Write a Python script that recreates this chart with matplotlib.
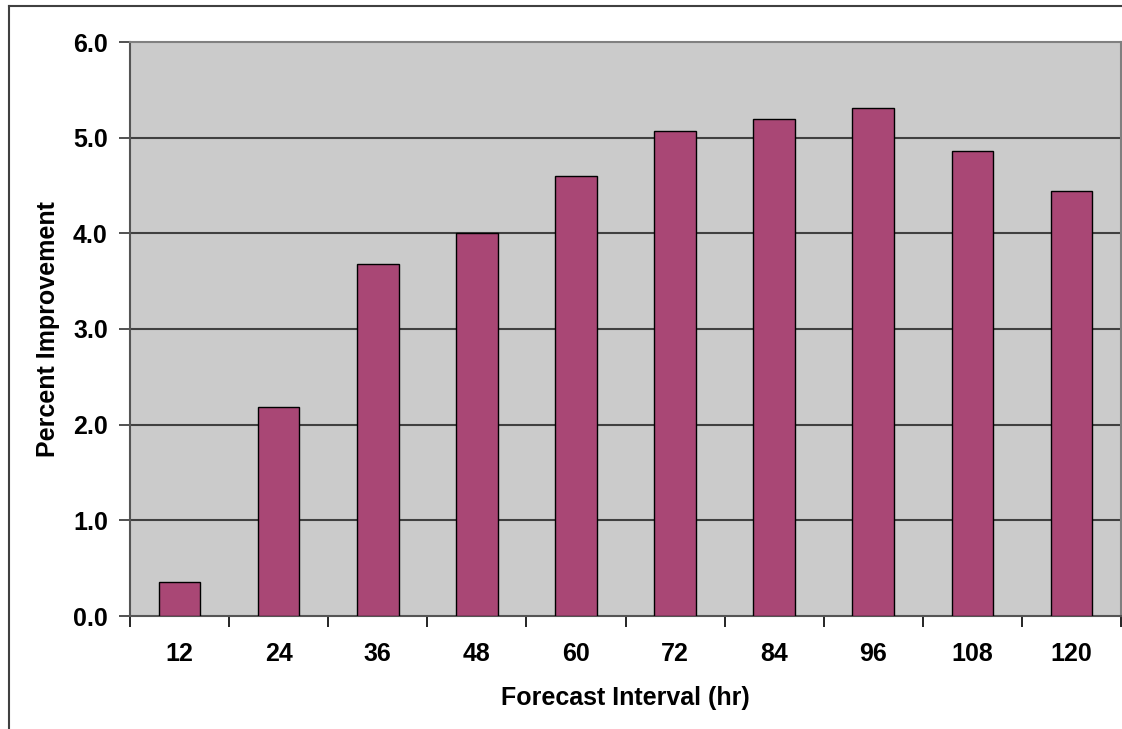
import matplotlib
matplotlib.use("Agg")
import matplotlib.pyplot as plt
from matplotlib.lines import Line2D

categories = ["12", "24", "36", "48", "60", "72", "84", "96", "108", "120"]
values = [0.36, 2.18, 3.68, 4.00, 4.60, 5.07, 5.19, 5.31, 4.86, 4.44]
yticks = [0.0, 1.0, 2.0, 3.0, 4.0, 5.0, 6.0]

plt.rcParams['font.family'] = ['Liberation Sans', 'DejaVu Sans']
plt.rcParams['font.weight'] = 'bold'

fig = plt.figure(figsize=(11.22, 7.29), dpi=100)
W, H = 1122, 729
ax = fig.add_axes([130 / W, 1 - 616 / H, (1121 - 130) / W, (616 - 42) / H])
ax.set_facecolor('#CBCBCB')

x = list(range(len(categories)))
ax.bar(x, values, width=0.42, color='#A94775', edgecolor='black', linewidth=1.0, zorder=3)

ax.set_xlim(-0.5, len(categories) - 0.5)
ax.set_ylim(0, 6.0)
ax.set_yticks(yticks)
ax.set_yticklabels([f"{v:.1f}" for v in yticks], fontsize=18, fontweight='bold')
ax.set_xticks([i + 0.5 for i in range(-1, len(categories))])
ax.set_xticklabels([])
ax.set_xticks(x, minor=True)
ax.set_xticklabels(categories, minor=True, fontsize=18, fontweight='bold')
ax.tick_params(axis='x', which='minor', length=0, pad=19)
ax.tick_params(axis='x', which='major', length=8, width=1.2, color='black', direction='out')
ax.tick_params(axis='y', length=8, width=1.2, color='#333333', direction='out', pad=8)

for v in yticks[1:-1]:
    ax.axhline(v, color='#404040', linewidth=1.5, zorder=1)

ax.spines['left'].set_color('#555555')
ax.spines['left'].set_linewidth(1.5)
ax.spines['bottom'].set_color('#555555')
ax.spines['bottom'].set_linewidth(1.5)
for s in ['top', 'right']:
    ax.spines[s].set_color('#808080')
    ax.spines[s].set_linewidth(1.5)

ax.set_xlabel("Forecast Interval (hr)", fontsize=18, fontweight='bold', labelpad=14)
ax.set_ylabel("Percent Improvement", fontsize=18, fontweight='bold', labelpad=9)

# outer chart border (left and top)
fig.add_artist(Line2D([9 / W, 9 / W], [0, 1 - 6 / H], color='#404040', linewidth=1.5, transform=fig.transFigure))
fig.add_artist(Line2D([9 / W, 1], [1 - 6 / H, 1 - 6 / H], color='#404040', linewidth=1.5, transform=fig.transFigure))

fig.savefig("out.png", dpi=100)
